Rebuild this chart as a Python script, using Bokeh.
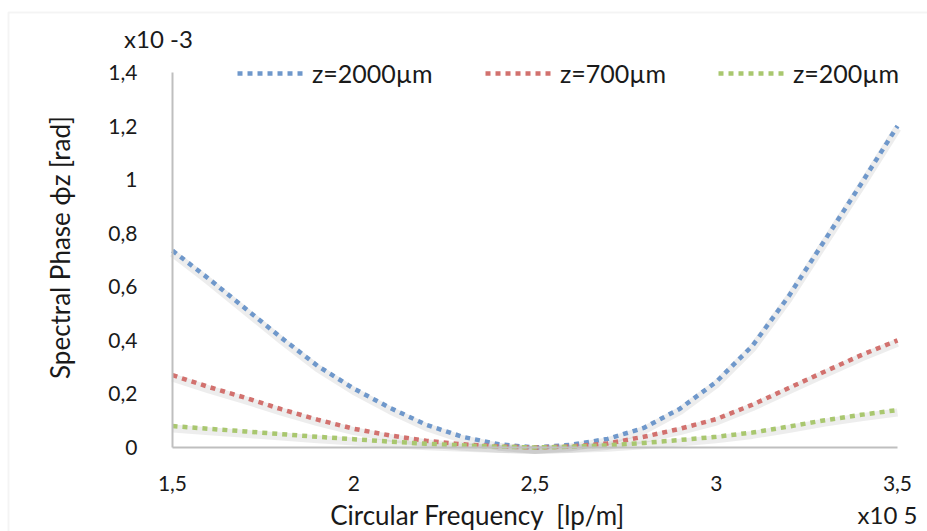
import numpy as np
from bokeh.plotting import figure
from bokeh.models import (Range1d, FixedTicker, CustomJSTickFormatter, Label,
                          Legend, LegendItem, BoxAnnotation, ColumnDataSource)
from bokeh.transform import dodge
from bokeh.embed import file_html
from bokeh.resources import INLINE

# ---- data (values in units of 1e-3 rad, frequency in units of 1e5 lp/m) ----
freq = [1.5, 1.6, 1.7, 1.8, 1.9, 2.0, 2.1, 2.2, 2.3, 2.4, 2.5,
        2.6, 2.7, 2.8, 2.9, 3.0, 3.1, 3.2, 3.3, 3.4, 3.5]
phase_2000 = [0.735, 0.63, 0.52, 0.41, 0.305, 0.22, 0.148, 0.085, 0.04, 0.012, 0.0,
              0.01, 0.032, 0.073, 0.145, 0.245, 0.38, 0.565, 0.775, 0.985, 1.2]
phase_700 = [0.27, 0.226, 0.186, 0.143, 0.104, 0.07, 0.045, 0.025, 0.012, 0.004, 0.0,
             0.004, 0.015, 0.04, 0.07, 0.106, 0.16, 0.222, 0.284, 0.345, 0.40]
phase_200 = [0.08, 0.07, 0.06, 0.05, 0.04, 0.031, 0.022, 0.014, 0.008, 0.003, 0.0,
             0.003, 0.008, 0.017, 0.028, 0.04, 0.056, 0.078, 0.102, 0.122, 0.14]
series_names = ["z=2000µm", "z=700µm", "z=200µm"]
series_colors = ["#6f98cb", "#d2716e", "#a9c76f"]

x_ticks = [1.5, 2.0, 2.5, 3.0, 3.5]
x_tick_labels = ["1,5", "2", "2,5", "3", "3,5"]
y_ticks = [0.0, 0.2, 0.4, 0.6, 0.8, 1.0, 1.2, 1.4]
y_tick_labels = ["0", "0,2", "0,4", "0,6", "0,8", "1", "1,2", "1,4"]

x_title = "Circular Frequency\u00a0\u00a0[lp/m]"
y_title = "Spectral Phase ϕz [rad]"
x_mult = "x10 5"
y_mult = "x10 -3"

# ---- layout (pixels) ----
W, H = 927, 531
FL, FR, FT, FB = 172, 897, 72, 447          # plot-area edges on the canvas
X0, X1 = x_ticks[0], x_ticks[-1]
Y0, Y1 = y_ticks[0], y_ticks[-1]
kx = (FR - FL) / (X1 - X0)
ky = (FB - FT) / (Y1 - Y0)

FONT = "Lato"
TXT = "#1a1a1a"

src = ColumnDataSource(dict(x=freq, a=phase_2000, b=phase_700, c=phase_200))

p = figure(width=W, height=H, output_backend="svg", toolbar_location=None,
           x_range=Range1d(X0 - FL / kx, X1 + (W - FR) / kx),
           y_range=Range1d(Y0 - (H - FB) / ky, Y1 + FT / ky),
           min_border=0)
p.outline_line_color = None
p.grid.visible = False
p.background_fill_color = "white"
p.border_fill_color = "white"

fmt_code = """
const i = tv.findIndex(t => Math.abs(t - tick) < 1e-9);
return i >= 0 ? tl[i] : "";
"""
for ax, ticks, labels, loc in ((p.xaxis[0], x_ticks, x_tick_labels, Y0),
                                (p.yaxis[0], y_ticks, y_tick_labels, X0)):
    ax.fixed_location = loc
    ax.bounds = (ticks[0], ticks[-1])
    ax.ticker = FixedTicker(ticks=ticks)
    ax.formatter = CustomJSTickFormatter(args=dict(tv=ticks, tl=labels), code=fmt_code)
    ax.major_tick_line_color = None
    ax.minor_tick_line_color = None
    ax.axis_line_color = "#bfbfbf"
    ax.axis_line_width = 2
    ax.major_label_text_font = FONT
    ax.major_label_text_font_size = "21px"
    ax.major_label_text_color = TXT
p.xaxis.major_label_standoff = 22
p.yaxis.major_label_standoff = 29

# outer chart-area border
p.add_layout(BoxAnnotation(left=8, top=12, right=3000, bottom=3000,
                           left_units="canvas", right_units="canvas",
                           top_units="canvas", bottom_units="canvas",
                           fill_alpha=0, line_color="#d9d9d9", line_width=2,
                           level="underlay"))

# soft shadows under the series
for key in ("a", "b", "c"):
    p.line(x="x", y=dodge(key, -0.009, range=p.y_range), source=src,
           line_color="#000000", line_alpha=0.07, line_width=8)

renderers = []
for key, col in zip(("a", "b", "c"), series_colors):
    r = p.line(x="x", y=key, source=src, line_color=col, line_width=4.5,
               line_dash="5 5")
    renderers.append(r)

# legends (one per item for exact placement)
leg_x = [237, 485, 718]
for r, name, lx in zip(renderers, series_names, leg_x):
    lg = Legend(items=[LegendItem(label=name, renderers=[r])], location=(lx, H - 88),
                orientation="horizontal", glyph_width=66, glyph_height=22,
                label_standoff=9, label_height=22, padding=0, margin=0,
                border_line_color=None, background_fill_alpha=0,
                label_text_font=FONT, label_text_font_size="25px",
                label_text_color=TXT)
    p.add_layout(lg)

# titles
def add_text(x, y, text, size, angle=0.0):
    p.add_layout(Label(x=x, y=y, x_units="canvas", y_units="canvas", text=text,
                       angle=angle, text_align="center", text_baseline="middle",
                       text_font=FONT, text_font_size=size, text_color=TXT))

add_text(477, 514, x_title, "26px")
add_text(887, 514, x_mult, "24px")
add_text(158, 38, y_mult, "24px")
add_text(59, 247, y_title, "26px", angle=np.pi / 2)

open("out.html", "w").write(file_html(p, INLINE))
